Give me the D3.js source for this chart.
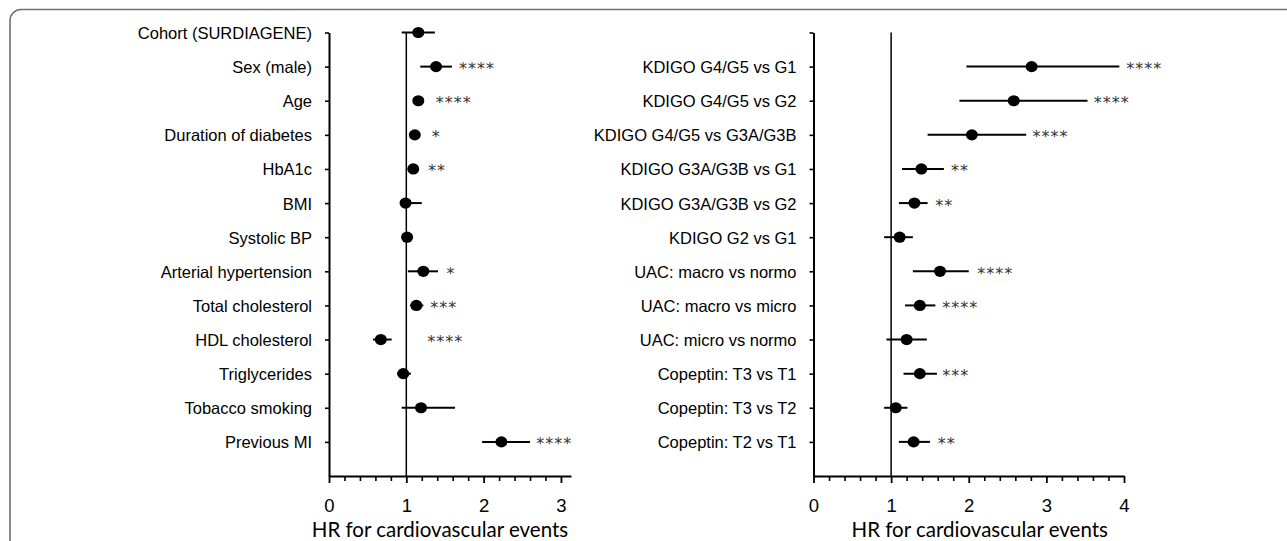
<!DOCTYPE html>
<html>
<head>
<meta charset="utf-8">
<script src="https://cdn.jsdelivr.net/npm/d3@7"></script>
<style>
  html, body { margin: 0; padding: 0; background: #fff; }
  svg { display: block; font-family: Lato, "Open Sans", sans-serif; }
  .axis path, .axis line { stroke: #000; }
  .axis text { fill: #000; }
</style>
</head>
<body>
<svg id="chart" width="1287" height="541"></svg>
<script>
// left panel: patient characteristics
const leftCategories = ["Cohort (SURDIAGENE)", "Sex (male)", "Age", "Duration of diabetes", "HbA1c", "BMI",
  "Systolic BP", "Arterial hypertension", "Total cholesterol", "HDL cholesterol", "Triglycerides",
  "Tobacco smoking", "Previous MI"];
const leftHR   = [1.155, 1.385, 1.155, 1.11, 1.09, 0.99, 1.01, 1.22, 1.13, 0.67, 0.96, 1.19, 2.23];
const leftLow  = [0.94, 1.18, 1.09, 1.05, 1.03, 0.92, 0.95, 1.02, 1.05, 0.57, 0.88, 0.94, 1.98];
const leftHigh = [1.37, 1.59, 1.22, 1.17, 1.16, 1.20, 1.06, 1.41, 1.22, 0.81, 1.06, 1.63, 2.60];
const leftStars   = ["", "****", "****", "*", "**", "", "", "*", "***", "****", "", "", "****"];
const leftStarsAt = [null, 1.68, 1.38, 1.33, 1.28, null, null, 1.52, 1.31, 1.27, null, null, 2.68];
const leftTicks = [0, 1, 2, 3];

// right panel: kidney function, albuminuria, copeptin
const rightCategories = ["KDIGO G4/G5 vs G1", "KDIGO G4/G5 vs G2", "KDIGO G4/G5 vs G3A/G3B",
  "KDIGO G3A/G3B vs G1", "KDIGO G3A/G3B vs G2", "KDIGO G2 vs G1", "UAC: macro vs normo",
  "UAC: macro vs micro", "UAC: micro vs normo", "Copeptin: T3 vs T1", "Copeptin: T3 vs T2",
  "Copeptin: T2 vs T1"];
const rightHR   = [2.81, 2.58, 2.04, 1.39, 1.30, 1.11, 1.63, 1.37, 1.20, 1.37, 1.06, 1.29];
const rightLow  = [1.97, 1.88, 1.47, 1.14, 1.10, 0.91, 1.28, 1.18, 0.94, 1.16, 0.91, 1.10];
const rightHigh = [3.94, 3.53, 2.74, 1.68, 1.47, 1.28, 2.00, 1.57, 1.46, 1.59, 1.21, 1.50];
const rightStars   = ["****", "****", "****", "**", "**", "", "****", "****", "", "***", "", "**"];
const rightStarsAt = [4.03, 3.61, 2.82, 1.77, 1.57, null, 2.11, 1.66, null, 1.66, null, 1.60];
const rightTicks = [0, 1, 2, 3, 4];

const xTitle = "HR for cardiovascular events";

const svg = d3.select("#chart");

// rounded frame around the figure
svg.append("rect")
  .attr("x", 10).attr("y", 9.5)
  .attr("width", 1400).attr("height", 700)
  .attr("rx", 11)
  .attr("fill", "none")
  .attr("stroke", "#707070")
  .attr("stroke-width", 1.6);

function drawPanel(opts) {
  const { categories, hr, low, high, stars, starsAt, ticks, xMax, x0, x1, rowOffset, titleShift } = opts;
  const top = 32.5, bottom = 476;

  const x = d3.scaleLinear().domain([0, xMax]).range([x0, x1]);
  const y = d3.scaleLinear().domain([0, 13]).range([top, bottom]);

  const rows = categories.map((c, i) => ({
    cat: c, i: i + rowOffset, hr: hr[i], low: low[i], high: high[i], stars: stars[i], at: starsAt[i]
  }));

  // y axis with category labels
  const labelOf = new Map(rows.map(d => [d.i, d.cat]));
  const yAxis = svg.append("g")
    .attr("class", "axis")
    .attr("transform", `translate(${x0},0)`)
    .call(d3.axisLeft(y)
      .tickValues(d3.range(0, 13))
      .tickSize(4)
      .tickSizeOuter(0)
      .tickPadding(13)
      .tickFormat(i => labelOf.get(i) || ""));
  yAxis.select(".domain").attr("stroke-width", 2);
  yAxis.selectAll(".tick line").attr("stroke-width", 1.6);
  yAxis.selectAll("text").attr("font-size", 16.5).attr("dy", "0.36em");

  // x axis: minor ticks every 0.2, major ticks on integers
  const minor = d3.range(0, xMax + 1e-6, 0.2).filter(v => Math.abs(v - Math.round(v)) > 1e-6);
  const xMinor = svg.append("g")
    .attr("class", "axis")
    .attr("transform", `translate(0,${bottom})`)
    .call(d3.axisBottom(x).tickValues(minor).tickSize(5).tickSizeOuter(0).tickFormat(""));
  xMinor.select(".domain").attr("stroke-width", 2);
  xMinor.selectAll(".tick line").attr("stroke-width", 1.6);

  const xMajor = svg.append("g")
    .attr("class", "axis")
    .attr("transform", `translate(0,${bottom})`)
    .call(d3.axisBottom(x).tickValues(ticks).tickSize(7).tickSizeOuter(0).tickPadding(16).tickFormat(d3.format("d")));
  xMajor.select(".domain").remove();
  xMajor.selectAll(".tick line").attr("stroke-width", 1.8);
  xMajor.selectAll("text").attr("font-size", 18.5);

  svg.append("text")
    .attr("x", (x0 + x1) / 2 + titleShift)
    .attr("y", 537)
    .attr("text-anchor", "middle")
    .attr("font-size", 20.5)
    .text(xTitle);

  // reference line at HR = 1
  svg.append("line")
    .attr("x1", x(1)).attr("x2", x(1))
    .attr("y1", top).attr("y2", bottom)
    .attr("stroke", "#000")
    .attr("stroke-width", 1.5);

  // confidence intervals
  svg.append("g").selectAll("line")
    .data(rows)
    .join("line")
    .attr("x1", d => x(d.low)).attr("x2", d => x(d.high))
    .attr("y1", d => y(d.i)).attr("y2", d => y(d.i))
    .attr("stroke", "#000")
    .attr("stroke-width", 2);

  // point estimates
  svg.append("g").selectAll("ellipse")
    .data(rows)
    .join("ellipse")
    .attr("cx", d => x(d.hr)).attr("cy", d => y(d.i))
    .attr("rx", 6).attr("ry", 5.6)
    .attr("fill", "#000");

  // significance stars
  svg.append("g").selectAll("text")
    .data(rows.filter(d => d.stars))
    .join("text")
    .attr("x", d => x(d.at))
    .attr("y", d => y(d.i) + 7.5)
    .attr("font-family", "DejaVu Sans, sans-serif")
    .attr("font-size", 16)
    .attr("letter-spacing", 1)
    .attr("fill", "#333")
    .text(d => d.stars);
}

drawPanel({
  categories: leftCategories, hr: leftHR, low: leftLow, high: leftHigh,
  stars: leftStars, starsAt: leftStarsAt, ticks: leftTicks,
  xMax: 3.13, x0: 329, x1: 571, rowOffset: 0, titleShift: -10
});

drawPanel({
  categories: rightCategories, hr: rightHR, low: rightLow, high: rightHigh,
  stars: rightStars, starsAt: rightStarsAt, ticks: rightTicks,
  xMax: 4, x0: 813.5, x1: 1124, rowOffset: 1, titleShift: 11
});
</script>
</body>
</html>
